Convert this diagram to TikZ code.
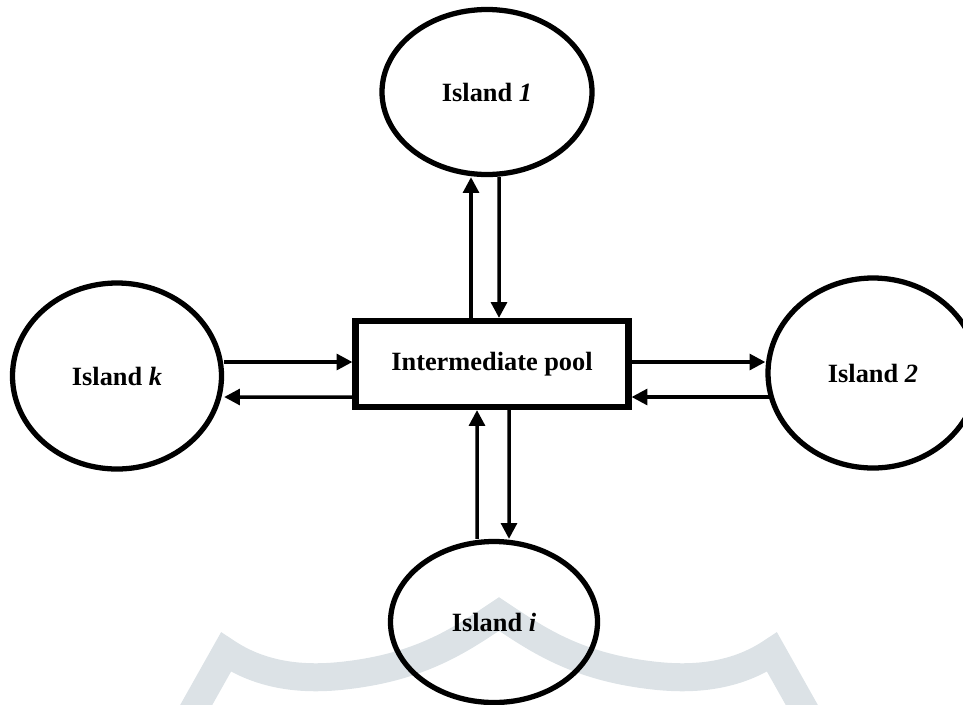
\documentclass[tikz,border=0pt]{standalone}
\usepackage{fontspec}
\setmainfont{Liberation Serif}
\usepackage{tikz}
\usetikzlibrary{shapes.geometric, arrows.meta, positioning, calc}
\usepackage{xcolor}
\definecolor{Mark}{HTML}{DCE2E6}

\begin{document}
\begin{tikzpicture}[
            island/.style={ellipse, draw=black, line width=3pt, fill=none, inner sep=0pt, align=center, font=\fontsize{15}{18}\selectfont\bfseries},
            pool/.style={rectangle, draw=black, line width=3.5pt, fill=white, minimum height=1.72cm, minimum width=5.46cm, align=center, font=\fontsize{15}{18}\selectfont\bfseries},
            arrow/.style={-{Triangle[length=9pt,width=9pt]}, line width=2pt, color=black}
        ]
            \useasboundingbox (0,0) rectangle (19.26,-14.08);

            % Background mark
            \begin{scope}
                \clip (0,0) rectangle (19.26,-14.08);
                \draw[Mark, line width=0.56cm, line join=miter] (3.80,-14.32) -- (4.52,-13.04)
                    .. controls (5.2,-13.5) and (6.0,-13.6) .. (6.8,-13.52)
                    .. controls (8.4,-13.36) and (9.2,-12.8) .. (9.98,-12.28)
                    .. controls (10.76,-12.8) and (11.56,-13.36) .. (13.16,-13.52)
                    .. controls (13.96,-13.6) and (14.76,-13.5) .. (15.44,-13.04) -- (16.16,-14.32);
            \end{scope}

            % Islands
            \node[island, minimum width=4.2cm, minimum height=3.3cm] (isl1) at (9.74,-1.84) {Island \textit{1}};
            \node[island, minimum width=4.18cm, minimum height=3.72cm] (islk) at (2.34,-7.52) {Island \textit{k}};
            \node[island, minimum width=4.2cm, minimum height=3.8cm] (isl2) at (17.46,-7.46) {Island \textit{2}};
            \node[island, minimum width=4.14cm, minimum height=3.22cm] (isli) at (9.88,-12.44) {Island \textit{i}};

            % Central pool
            \node[pool] (pool) at (9.84,-7.28) {Intermediate pool};

            % Connections
            \draw[arrow] ([xshift=-0.42cm]pool.north) -- ([xshift=-0.32cm]isl1.south);
            \draw[arrow] ([xshift=0.24cm]isl1.south) -- ([xshift=0.14cm]pool.north);
            \draw[arrow] ([xshift=-0.34cm]isli.north) -- ([xshift=-0.30cm]pool.south);
            \draw[arrow] ([xshift=0.34cm]pool.south) -- ([xshift=0.30cm]isli.north);
            \draw[arrow] ([yshift=0.28cm]islk.east) -- ([yshift=0.04cm]pool.west);
            \draw[arrow] ([yshift=-0.66cm]pool.west) -- ([yshift=-0.42cm]islk.east);
            \draw[arrow] ([yshift=0.04cm]pool.east) -- ([yshift=0.22cm]isl2.west);
            \draw[arrow] ([xshift=0.08cm,yshift=-0.48cm]isl2.west) -- ([yshift=-0.66cm]pool.east);
        \end{tikzpicture}
\end{document}
